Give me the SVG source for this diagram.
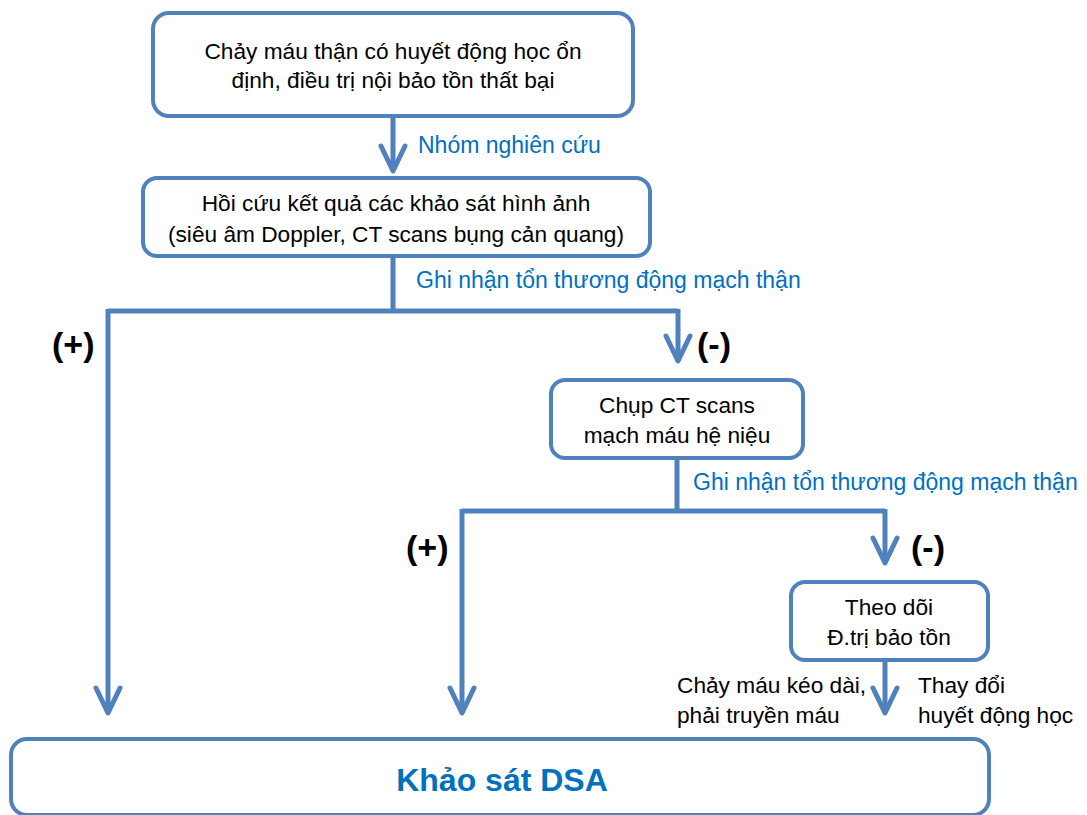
<svg xmlns="http://www.w3.org/2000/svg" width="1087" height="815" viewBox="0 0 1087 815">
<defs>
<style>
.box{fill:#fff;stroke:#4F81BD;stroke-width:4}
.line{fill:none;stroke:#4F81BD;stroke-width:5}
.t{font-family:"Liberation Sans",Arial,sans-serif;font-size:22.7px;fill:#000;text-anchor:middle}
.lbl{font-family:"Liberation Sans",Arial,sans-serif;font-size:23px;fill:#0070C0}
.lb{font-family:"Liberation Sans",Arial,sans-serif;font-size:22.7px;fill:#000}
.sign{font-family:"Liberation Sans",Arial,sans-serif;font-size:34px;font-weight:bold;fill:#000}
.big{font-family:"Liberation Sans",Arial,sans-serif;font-size:32px;font-weight:bold;fill:#0070C0;text-anchor:middle}
</style>
<marker id="arr" markerUnits="userSpaceOnUse" orient="auto" refX="0" refY="0" markerWidth="40" markerHeight="40" viewBox="-32 -20 40 40" overflow="visible">
<path d="M-25,-12 L0,0 L-25,12" fill="none" stroke="#4F81BD" stroke-width="5" stroke-linecap="round" stroke-linejoin="round"/>
</marker>
</defs>
<rect width="1087" height="815" fill="#fff"/>
<g id="connectors">
<path class="line" d="M393,117 L393,171" marker-end="url(#arr)"/>
<path class="line" d="M393,256 L393,311 M108,311 L678,311"/>
<path class="line" d="M108,309 L108,713" marker-end="url(#arr)"/>
<path class="line" d="M678,309 L678,361" marker-end="url(#arr)"/>
<path class="line" d="M677,459 L677,511 M462,511 L885,511"/>
<path class="line" d="M462,509 L462,713" marker-end="url(#arr)"/>
<path class="line" d="M885,509 L885,563" marker-end="url(#arr)"/>
<path class="line" d="M885,661 L885,713" marker-end="url(#arr)"/>
</g>
<g id="labels">
<text class="lbl" x="418" y="153">Nhóm nghiên cứu</text>
<text class="lbl" x="416" y="288">Ghi nhận tổn thương động mạch thận</text>
<text class="lbl" x="693" y="490">Ghi nhận tổn thương động mạch thận</text>
<text class="sign" x="52" y="356">(+)</text>
<text class="sign" x="697" y="356">(-)</text>
<text class="sign" x="406" y="559">(+)</text>
<text class="sign" x="911" y="559">(-)</text>
<text class="lb" x="677" y="693">Chảy máu kéo dài,</text>
<text class="lb" x="677" y="723">phải truyền máu</text>
<text class="lb" x="918" y="693">Thay đổi</text>
<text class="lb" x="918" y="723">huyết động học</text>
</g>
<g id="node1">
<rect class="box" x="153" y="13" width="480" height="103" rx="16"/>
<text class="t" x="393" y="59">Chảy máu thận có huyết động học ổn</text>
<text class="t" x="393" y="88">định, điều trị nội bảo tồn thất bại</text>
</g>
<g id="node2">
<rect class="box" x="143" y="178" width="507" height="78" rx="14"/>
<text class="t" x="396" y="211">Hồi cứu kết quả các khảo sát hình ảnh</text>
<text class="t" x="396" y="242">(siêu âm Doppler, CT scans bụng cản quang)</text>
</g>
<g id="node3">
<rect class="box" x="551" y="380" width="252" height="78" rx="14"/>
<text class="t" x="677" y="413">Chụp CT scans</text>
<text class="t" x="677" y="443">mạch máu hệ niệu</text>
</g>
<g id="node4">
<rect class="box" x="791" y="582" width="197" height="78" rx="14"/>
<text class="t" x="889" y="615">Theo dõi</text>
<text class="t" x="889" y="645">Đ.trị bảo tồn</text>
</g>
<g id="node5">
<rect class="box" x="11" y="739" width="978" height="76" rx="16"/>
<text class="big" x="502" y="791">Khảo sát DSA</text>
</g>
</svg>
